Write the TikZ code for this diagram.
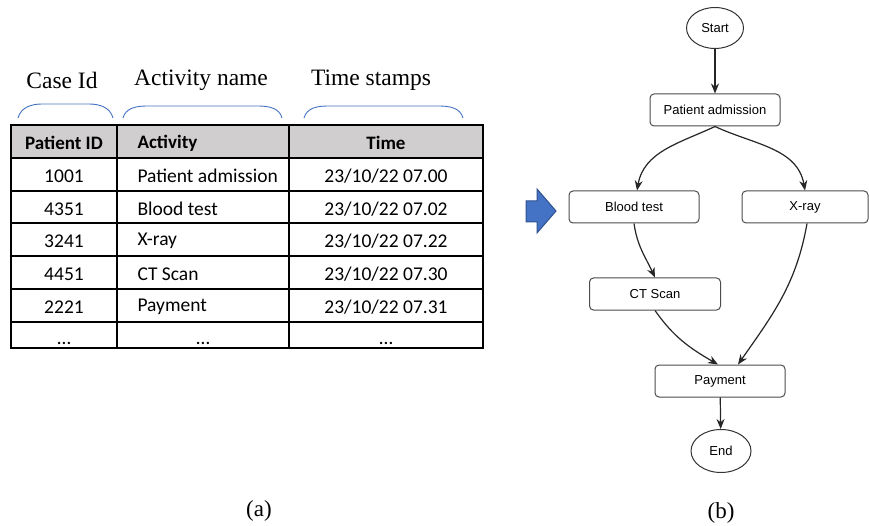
\documentclass[tikz,border=0pt]{standalone}
\usepackage{fontspec}
\setmainfont{Liberation Serif}
\newfontfamily\tabfont{Carlito}
\newfontfamily\flowfont{Liberation Sans}
\usetikzlibrary{shapes.geometric, arrows.meta}

\definecolor{braceblue}{HTML}{4472C4}
\definecolor{arrowedge}{HTML}{2F528F}
\definecolor{headgray}{HTML}{D0CECE}

\begin{document}
\begin{tikzpicture}[x=1pt, y=-1pt,
	heading/.style={font=\fontsize{23.5}{26}\selectfont},
	cell/.style={font=\tabfont\fontsize{19.5}{22}\selectfont},
	headcell/.style={cell, font=\tabfont\bfseries\fontsize{19}{22}\selectfont},
	leftcell/.style={cell, anchor=west},
	brace/.style={braceblue, line width=.9pt},
	grid/.style={line width=2pt},
	activity/.style={rectangle, rounded corners=4pt, draw=black!70, line width=1pt,
		minimum width=130pt, minimum height=32pt, inner sep=0pt,
		font=\flowfont\fontsize{13}{15}\selectfont},
	terminal/.style={ellipse, draw=black!80, line width=1pt, inner sep=0pt,
		font=\flowfont\fontsize{13}{15}\selectfont},
	flow/.style={draw=black!85, line width=1.2pt, -{Stealth[length=10pt, width=8pt]}},
	caption/.style={font=\fontsize{23}{26}\selectfont}]
	\useasboundingbox (0,0) rectangle (869,526);

	% (a) event log
	\node (H1) at (62, 80) [heading] {Case Id};
	\node (H2) at (201, 80) [heading] {Activity name};
	\node (H3) at (371, 80) [heading] {Time stamps};

	\draw[brace] (18,118) to[out=75, in=180] (42,104) -- (89,104) to[out=0, in=105] (113,118);
	\draw[brace] (123,118) to[out=75, in=180] (147,106) -- (258,106) to[out=0, in=105] (282,118);
	\draw[brace] (304,118) to[out=75, in=180] (328,106) -- (439,106) to[out=0, in=105] (463,118);

	\fill[headgray] (11,125) rectangle (483,158);
	\draw[grid] (11,125) rectangle (483,348);
	\draw[grid] (117,125) -- (117,348) (289,125) -- (289,348);
	\draw[grid] (11,158) -- (483,158) (11,191) -- (483,191) (11,223) -- (483,223)
		(11,256) -- (483,256) (11,289) -- (483,289) (11,322) -- (483,322);

	\node (C0) at (64, 143) [headcell] {Patient ID};
	\node (A0) at (134, 143) [headcell, anchor=west] {Activity};
	\node (T0) at (386, 143) [headcell] {Time};

	\node (C1) at (64, 176) [cell] {1001};
	\node (A1) at (134, 176) [leftcell] {Patient admission};
	\node (T1) at (386, 176) [cell] {23/10/22 07.00};
	\node (C2) at (64, 209) [cell] {4351};
	\node (A2) at (134, 209) [leftcell] {Blood test};
	\node (T2) at (386, 209) [cell] {23/10/22 07.02};
	\node (C3) at (64, 241) [cell] {3241};
	\node (A3) at (134, 241) [leftcell] {X-ray};
	\node (T3) at (386, 241) [cell] {23/10/22 07.22};
	\node (C4) at (64, 274) [cell] {4451};
	\node (A4) at (134, 274) [leftcell] {CT Scan};
	\node (T4) at (386, 274) [cell] {23/10/22 07.30};
	\node (C5) at (64, 307) [cell] {2221};
	\node (A5) at (134, 307) [leftcell] {Payment};
	\node (T5) at (386, 307) [cell] {23/10/22 07.31};
	\node (C6) at (64, 344) [cell, anchor=base] {\dots};
	\node (A6) at (203, 344) [cell, anchor=base] {\dots};
	\node (T6) at (386, 344) [cell, anchor=base] {\dots};

	% block arrow between (a) and (b)
	\draw[fill=braceblue, draw=arrowedge, line width=1pt] (526,201) -- (537,201) -- (537,189)
		-- (556,211) -- (537,233) -- (537,222) -- (526,222) -- cycle;

	% (b) process model
	\node (start) at (715, 28) [terminal, minimum width=57pt, minimum height=41pt] {Start};
	\node (admit) at (715, 110) [activity] {Patient admission};
	\node (blood) at (634, 207) [activity] {Blood test};
	\node (xray) at (805, 207) [activity, minimum width=126pt] {X-ray};
	\node (ct) at (655, 294) [activity, minimum width=131pt] {CT Scan};
	\node (pay) at (720, 381) [activity, minimum width=130pt] {Payment};
	\node (end) at (721, 451) [terminal, minimum width=60pt, minimum height=43pt] {End};

	\draw[flow] (start) -- (admit);
	\draw[flow] (admit.south) to[out=205, in=80] ([xshift=3pt]blood.north);
	\draw[flow] (admit.south) to[out=-25, in=100] (xray.north);
	\draw[flow] (blood.south) to[out=-82, in=115] (ct.north);
	\draw[flow] (ct.south) to[out=-55, in=150] ([xshift=-2pt]pay.north);
	\draw[flow] ([xshift=2pt]xray.south) to[out=-100, in=55] ([xshift=18pt]pay.north);
	\draw[flow] (pay) -- (end);

	\node (capA) at (259, 511) [caption] {(a)};
	\node (capB) at (721, 513) [caption] {(b)};
\end{tikzpicture}
\end{document}
